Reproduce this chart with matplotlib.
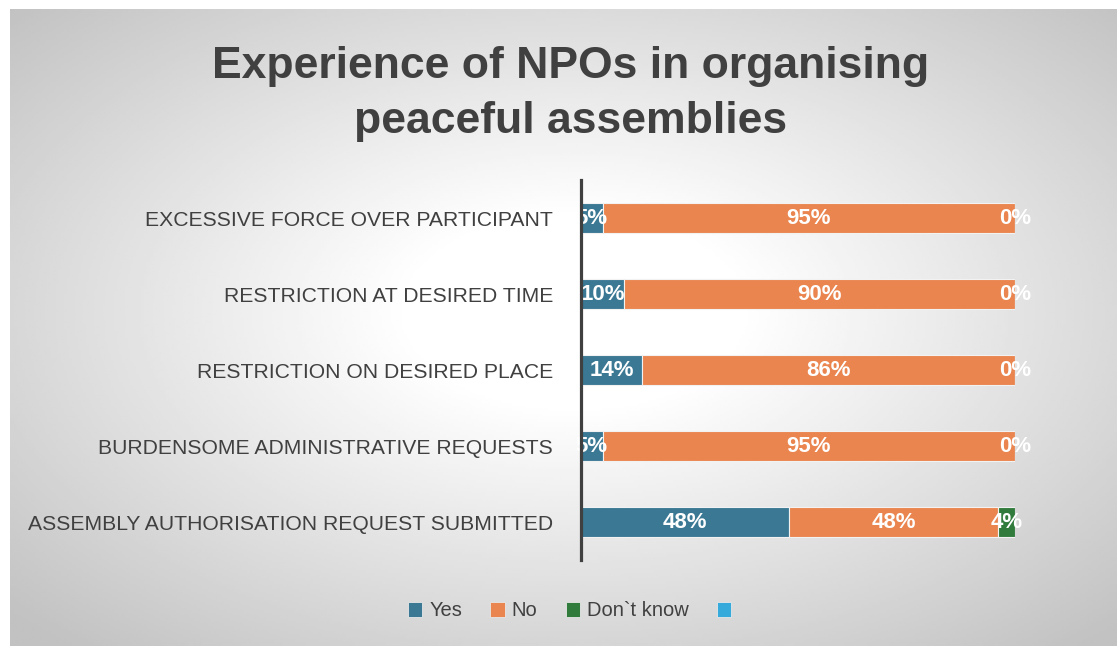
import numpy as np
import matplotlib.pyplot as plt
from matplotlib.patches import Patch

# survey results (percent of NPOs)
categories = [
    "ASSEMBLY AUTHORISATION REQUEST SUBMITTED",
    "BURDENSOME ADMINISTRATIVE REQUESTS",
    "RESTRICTION ON DESIRED PLACE",
    "RESTRICTION AT DESIRED TIME",
    "EXCESSIVE FORCE OVER PARTICIPANT",
]
yes = [48, 5, 14, 10, 5]
no = [48, 95, 86, 90, 95]
dont_know = [4, 0, 0, 0, 0]

series_names = ["Yes", "No", "Don`t know", ""]
colors = ["#3A7894", "#EA854F", "#317B3D", "#35AADB"]

plt.rcParams["font.family"] = ["Liberation Sans", "DejaVu Sans"]

W, H = 1117, 646
fig = plt.figure(figsize=(W / 100, H / 100), dpi=100)
fig.patch.set_facecolor("white")

# radial grey-to-white backdrop of the chart area
bg = fig.add_axes([10 / W, 0, 1 - 10 / W, 1 - 9 / H])
gx, gy = np.meshgrid(np.linspace(-1, 1, 400), np.linspace(-1, 1, 240))
d = np.sqrt((gx - 0.02) ** 2 + (gy + 0.05) ** 2)
shade = 1 - 0.24 * np.clip((d - 0.3) / 1.1, 0, 1)
bg.imshow(shade, cmap="gray", vmin=0, vmax=1, aspect="auto",
          extent=[0, 1, 0, 1], interpolation="bilinear")
bg.set_axis_off()

ax = fig.add_axes([581 / W, 1 - 560 / H, 434 / W, 380 / H])
ax.set_facecolor("none")

y = np.arange(len(categories))
h = 0.4
left = np.zeros(len(categories))
for vals, col in zip([yes, no, dont_know], colors[:3]):
    vals = np.array(vals, dtype=float)
    bars = ax.barh(y, vals, left=left, height=h, color=col,
                   edgecolor="#f2f2f2", linewidth=0.8, zorder=2)
    for b, v in zip(bars, vals):
        cx = b.get_x() + b.get_width() / 2
        ax.text(cx, b.get_y() + b.get_height() / 2, f"{v:.0f}%",
                ha="center", va="center", color="white",
                fontsize=16, fontweight="bold", zorder=3)
    left += vals

ax.set_xlim(0, 100)
ax.set_ylim(-0.5, len(categories) - 0.5)
ax.set_yticks(y)
ax.set_yticklabels(categories, fontsize=15.2, color="#404040")
ax.tick_params(axis="y", length=0, pad=20)
ax.set_xticks([])
for side in ["top", "right", "bottom"]:
    ax.spines[side].set_visible(False)
ax.spines["left"].set_color("#404040")
ax.spines["left"].set_linewidth(2.3)
ax.spines["left"].set_zorder(4)

fig.text(571 / W, 1 - 94 / H,
         "Experience of NPOs in organising\npeaceful assemblies",
         ha="center", va="center", fontsize=32, fontweight="bold",
         color="#404040", linespacing=1.45)

handles = [Patch(facecolor=c, edgecolor="#e8e8e8", linewidth=0.6) for c in colors]
fig.legend(handles, series_names, loc="center", ncol=4,
           bbox_to_anchor=(573 / W, 1 - 611 / H), frameon=False,
           fontsize=14.5, handlelength=0.7, handleheight=0.7,
           handletextpad=0.35, columnspacing=1.4, labelcolor="#404040")

fig.savefig("out.png", dpi=100)
